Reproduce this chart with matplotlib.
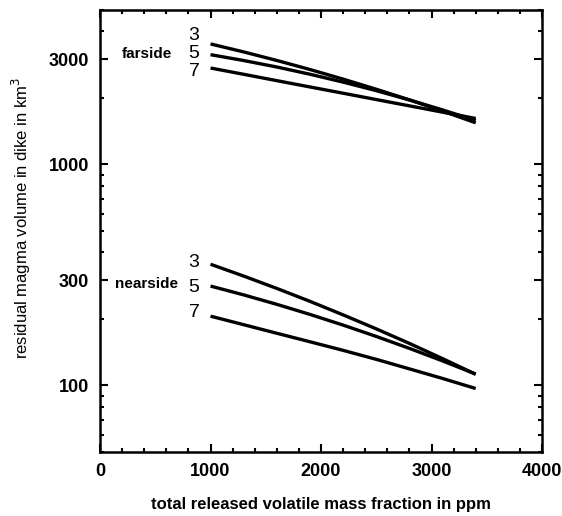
import numpy as np
from matplotlib import pyplot as plt
from matplotlib.ticker import FixedLocator, LogLocator, MultipleLocator, NullFormatter

plt.rcParams['font.family'] = ['Liberation Sans', 'DejaVu Sans']

# volatile mass fraction (ppm)
ppm = [1000, 1300, 1600, 1900, 2200, 2500, 2800, 3100, 3400]

# residual magma volume (km^3), labelled by curve number
far_3 = [3512, 3231, 2956, 2690, 2434, 2190, 1961, 1745, 1544]
far_5 = [3140, 2954, 2761, 2561, 2359, 2158, 1959, 1766, 1581]
far_7 = [2732, 2559, 2395, 2243, 2101, 1967, 1842, 1725, 1615]
near_3 = [353.7, 312.7, 274.9, 240.3, 208.7, 180.4, 155.0, 132.3, 112.4]
near_5 = [281.8, 257.0, 232.9, 209.7, 187.6, 166.7, 147.2, 129.2, 112.6]
near_7 = [205.9, 188.4, 172.3, 157.7, 144.2, 131.3, 118.9, 107.6, 96.9]

fig = plt.figure(figsize=(5.62, 5.16), dpi=100)
ax = fig.add_axes([0.178, 0.124, 0.7864, 0.8566])

for ys in (far_3, far_5, far_7, near_3, near_5, near_7):
	ax.plot(ppm, ys, 'k-', lw=2.4, solid_capstyle='butt')

ax.set_yscale('log')
ax.set_xlim(0, 4000)
ax.set_ylim(50, 5000)

ax.xaxis.set_major_locator(MultipleLocator(1000))
ax.xaxis.set_minor_locator(MultipleLocator(200))
ax.yaxis.set_major_locator(FixedLocator([100, 300, 1000, 3000]))
ax.yaxis.set_minor_locator(LogLocator(base=10, subs=np.arange(1, 10)))
ax.yaxis.set_minor_formatter(NullFormatter())
ax.set_yticklabels(['100', '300', '1000', '3000'])

ax.tick_params(which='both', direction='in', top=True, right=True, width=1.5)
ax.tick_params(which='major', length=6, labelsize=13, pad=8)
ax.tick_params(which='minor', length=3)
for lbl in ax.get_xticklabels() + ax.get_yticklabels():
	lbl.set_fontweight('bold')
for s in ax.spines.values():
	s.set_linewidth(1.8)

ax.set_xlabel('total released volatile mass fraction in ppm', fontsize=12, fontweight='bold', labelpad=12)
ax.set_ylabel('residual magma volume in dike in km$^3$', fontsize=12)
ax.yaxis.set_label_coords(-0.152, 0.53)

# curve labels
for txt, yv in (('3', 3818), ('5', 3162), ('7', 2648)):
	ax.text(850, yv, txt, fontsize=14, ha='center', va='center')
for txt, yv in (('3', 359), ('5', 279), ('7', 215)):
	ax.text(850, yv, txt, fontsize=14, ha='center', va='center')
ax.text(425, 3162, 'farside', fontsize=11, fontweight='bold', ha='center', va='center')
ax.text(425, 288, 'nearside', fontsize=11, fontweight='bold', ha='center', va='center')

plt.savefig('out.png', dpi=100)
